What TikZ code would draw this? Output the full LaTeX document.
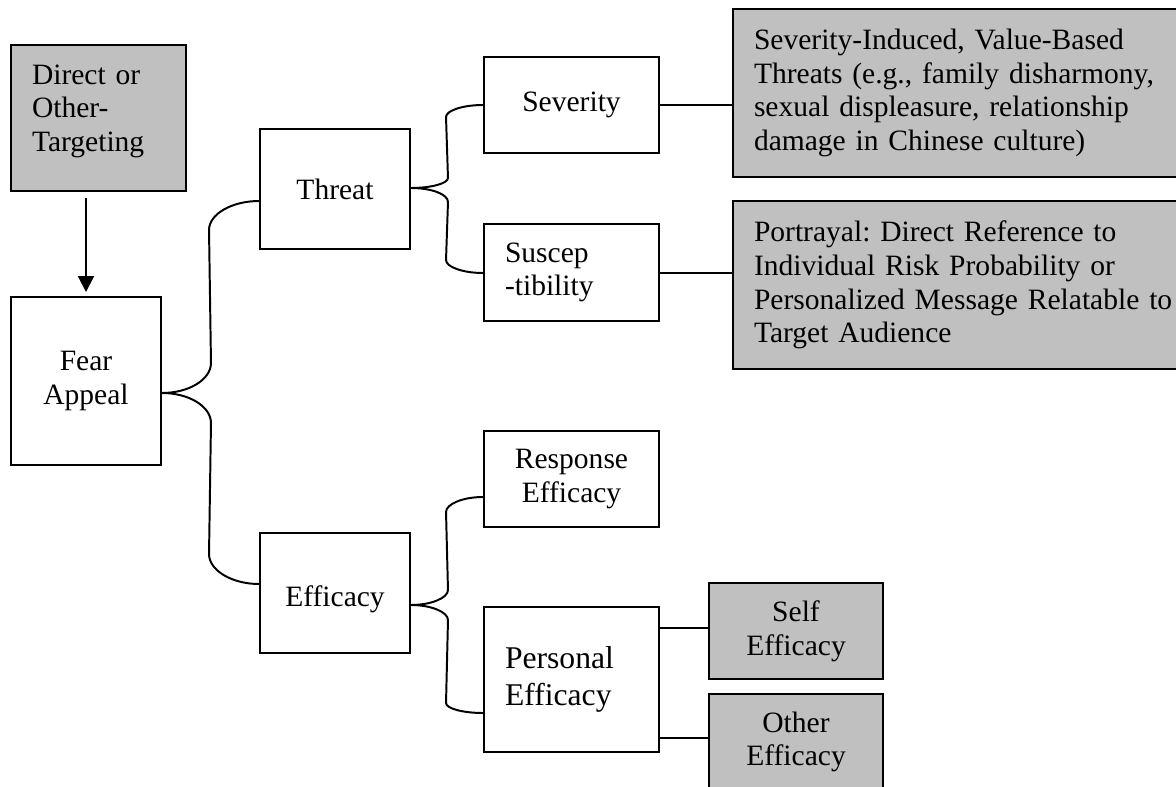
\documentclass[tikz,border=0pt]{standalone}
\usepackage{fontspec}
\setmainfont{Liberation Serif}
\usetikzlibrary{calc,arrows.meta}
\def\pxu{0.025cm}
\definecolor{boxgray}{HTML}{C0C0C0}
\tikzset{
  box/.style={draw=black, line width=1.4pt, rectangle, inner sep=0pt,
    font=\fontsize{21pt}{24pt}\selectfont\frenchspacing, align=center},
  grbox/.style={box, fill=boxgray},
  conn/.style={draw=black, line width=1.4pt},
}
\begin{document}
\begin{tikzpicture}[x=0.025cm, y=-0.025cm]
\useasboundingbox (0,0) rectangle (1176,787);
% nodes
\node[grbox, minimum width=175*\pxu, minimum height=146*\pxu, text width=133*\pxu, align=left] (direct) at (98.5,118) {Direct or\\Other-\\Targeting\rule[-14pt]{0pt}{1pt}};
\node[box, minimum width=150*\pxu, minimum height=168*\pxu] (fear) at (86,381) {Fear\\Appeal};
\node[box, minimum width=150*\pxu, minimum height=120*\pxu] (threat) at (335,189) {Threat};
\node[box, minimum width=150*\pxu, minimum height=120*\pxu] (efficacy) at (335,593) {\rule{0pt}{24pt}Efficacy};
\node[box, minimum width=175*\pxu, minimum height=96*\pxu] (severity) at (571.5,105) {Severity};
\node[box, minimum width=175*\pxu, minimum height=97*\pxu, text width=133*\pxu, align=left] (suscep) at (571.5,272.5) {Suscep\\-tibility};
\node[box, minimum width=175*\pxu, minimum height=96*\pxu] (response) at (571.5,479) {Response\\Efficacy};
\node[box, minimum width=175*\pxu, minimum height=145*\pxu, text width=133*\pxu, align=left, font=\fontsize{22.5pt}{26pt}\selectfont] (personal) at (571.5,679.5) {Personal\\Efficacy};
\node[grbox, minimum width=174*\pxu, minimum height=96*\pxu] (self) at (796,631) {Self\\Efficacy};
\node[grbox, minimum width=174*\pxu, minimum height=96*\pxu] (other) at (796,742) {Other\\Efficacy};
\node[grbox, minimum width=480*\pxu, minimum height=168*\pxu, text width=438*\pxu, align=left] (sevbox) at (973,93) {Severity-Induced, Value-Based\\Threats (e.g., family disharmony,\\sexual displeasure, relationship\\damage in Chinese culture)};
\node[grbox, minimum width=480*\pxu, minimum height=168*\pxu, text width=438*\pxu, align=left] (portbox) at (973,285) {Portrayal: Direct Reference to\\Individual Risk Probability or\\Personalized Message Relatable to\\Target Audience};
% arrow
\draw[conn, -{Triangle[length=11.3pt, width=11.3pt]}] ($(fear.north |- direct.south)+(0,6)$) -- ($(fear.north)+(0,-4)$);
% fear brace
\coordinate (fb) at ($(fear.east)+(0,12)$);
\coordinate (tw) at ($(threat.west)+(0,12)$);
\coordinate (ew) at ($(efficacy.west)+(0,-9)$);
\draw[conn] (fb) .. controls ($(fb)+(27,0)$) and ($(fb)+(49,-13.5)$) .. ($(fb)+(49,-30)$) -- ($(tw)+(-50,29)$) .. controls ($(tw)+(-50,13)$) and ($(tw)+(-27,0)$) .. (tw);
\draw[conn] (fb) .. controls ($(fb)+(27,0)$) and ($(fb)+(49,13.5)$) .. ($(fb)+(49,30)$) -- ($(ew)+(-50,-30)$) .. controls ($(ew)+(-50,-13.5)$) and ($(ew)+(-27,0)$) .. (ew);
% threat brace
\coordinate (tb) at ($(threat.east)+(0,-1)$);
\coordinate (sw) at (severity.west);
\coordinate (uw) at ($(suscep.west)+(0,0.5)$);
\draw[conn] (tb) .. controls ($(tb)+(20,0)$) and ($(tb)+(37,-4.5)$) .. ($(tb)+(37,-10)$) -- ($(sw)+(-37,12)$) .. controls ($(sw)+(-37,5.5)$) and ($(sw)+(-20,0)$) .. (sw);
\draw[conn] (tb) .. controls ($(tb)+(20,0)$) and ($(tb)+(37,6)$) .. ($(tb)+(37,14)$) -- ($(uw)+(-37,-13)$) .. controls ($(uw)+(-37,-6)$) and ($(uw)+(-20,0)$) .. (uw);
% efficacy brace
\coordinate (eb) at ($(efficacy.east)+(0,12)$);
\coordinate (rw) at ($(response.west)+(0,18)$);
\coordinate (pw) at ($(personal.west)+(0,33.5)$);
\draw[conn] (eb) .. controls ($(eb)+(20,0)$) and ($(eb)+(37,-7)$) .. ($(eb)+(37,-15)$) -- ($(rw)+(-37,15)$) .. controls ($(rw)+(-37,7)$) and ($(rw)+(-20,0)$) .. (rw);
\draw[conn] (eb) .. controls ($(eb)+(20,0)$) and ($(eb)+(37,7)$) .. ($(eb)+(37,15)$) -- ($(pw)+(-37,-10)$) .. controls ($(pw)+(-37,-4.5)$) and ($(pw)+(-20,0)$) .. (pw);
% straight connectors
\draw[conn] (severity.east) -- (severity.east -| sevbox.west);
\draw[conn] ($(suscep.east)+(0,0.5)$) -- ($(suscep.east -| portbox.west)+(0,0.5)$);
\draw[conn] ($(personal.east |- self.west)+(0,-3)$) -- ($(self.west)+(0,-3)$);
\draw[conn] ($(personal.east |- other.west)+(0,-4)$) -- ($(other.west)+(0,-4)$);
\end{tikzpicture}
\end{document}
